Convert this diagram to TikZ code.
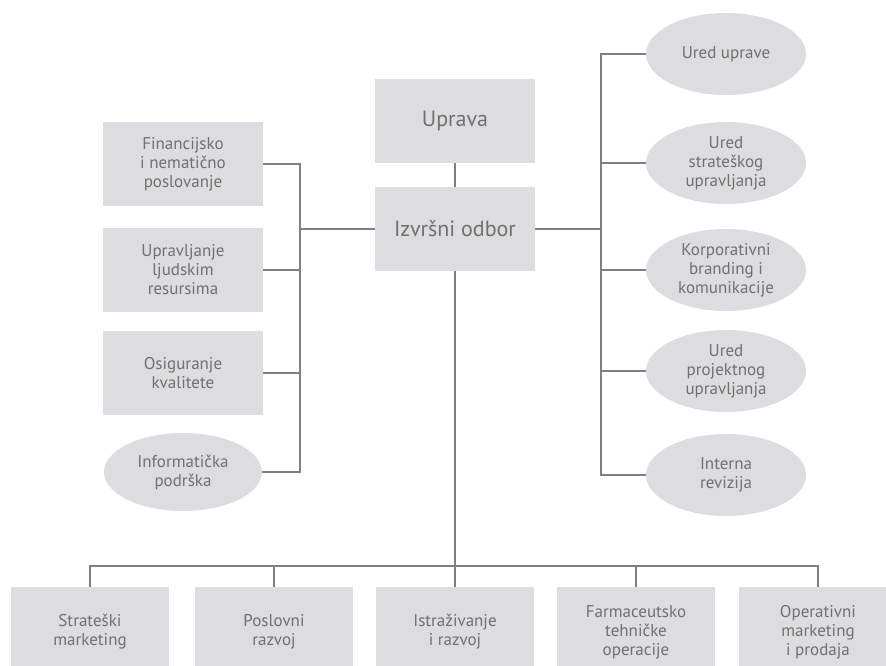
\documentclass[tikz,border=0pt]{standalone}
\usepackage{fontspec}
\setmainfont{PT Sans}
\usetikzlibrary{shapes.geometric,positioning}
\definecolor{boxgray}{RGB}{221,221,223}
\definecolor{txtgray}{RGB}{112,112,112}
\definecolor{linegray}{RGB}{128,128,128}

\begin{document}
\begin{tikzpicture}[x=1pt,y=-1pt]
  \tikzset{ box/.style={rectangle,fill=boxgray,text=txtgray,align=center,inner sep=0pt,
      minimum width=160pt,minimum height=84pt,font=\fontsize{17}{19}\selectfont},
    oval/.style={box,ellipse,minimum height=82pt},
    big/.style={box,font=\fontsize{22}{26}\selectfont},
    low/.style={box,minimum width=158pt,minimum height=90pt},
    link/.style={-,linegray,line width=1.6pt},
  }
  \useasboundingbox (0,0) rectangle (886,666);
  \clip (0,0) rectangle (886,666);

  % top
  \node[big] (UP) at (455,121) {Uprava};
  \node[big] (IO) at (455,229) {Izvršni odbor};

  % left
  \node[box] (FIN) at (183,164) {Financijsko\\i nematično\\poslovanje};
  \node[box] (LJR) at (183,270) {Upravljanje\\ljudskim\\resursima};
  \node[box] (OK) at (183,373) {Osiguranje\\kvalitete};
  \node[oval,minimum width=158pt,minimum height=78pt] (IP) at (183,472) {Informatička\\podrška};

  % right
  \node[oval] (UU) at (726,54) {Ured uprave};
  \node[oval] (USU) at (726,163) {Ured\\strateškog\\upravljanja};
  \node[oval] (KBK) at (726,270) {Korporativni\\branding i\\komunikacije};
  \node[oval] (UPU) at (726,371) {Ured\\projektnog\\upravljanja};
  \node[oval] (IR) at (726,475) {Interna\\revizija};

  % bottom
  \node[low] (SM) at (90,632) {Strateški\\marketing};
  \node[low] (PR) at (274,632) {Poslovni\\razvoj};
  \node[low] (IRZ) at (455,632) {Istraživanje\\i razvoj};
  \node[low] (FTO) at (636,632) {Farmaceutsko\\tehničke\\operacije};
  \node[low] (OMP) at (818,632) {Operativni\\marketing\\i prodaja};

  \coordinate (L) at (300,229);
  \coordinate (R) at (601,229);
  \coordinate (B) at (455,566);

  \draw[link] (UP) -- (IO);
  \draw[link] (IO) -- (L);
  \draw[link] (IO) -- (R);
  \draw[link] (IO) -- (B);

  \draw[link] (FIN.east) -| (L);
  \draw[link] (IP.east) -| (L);
  \draw[link] (LJR.east) -- (LJR.east -| L);
  \draw[link] (OK.east) -- (OK.east -| L);

  \draw[link] (UU.west) -| (R);
  \draw[link] (IR.west) -| (R);
  \draw[link] (USU.west) -- (USU.west -| R);
  \draw[link] (KBK.west) -- (KBK.west -| R);
  \draw[link] (UPU.west) -- (UPU.west -| R);

  \draw[link] (SM.north) |- (B);
  \draw[link] (OMP.north) |- (B);
  \draw[link] (PR.north) -- (PR.north |- B);
  \draw[link] (IRZ.north) -- (B);
  \draw[link] (FTO.north) -- (FTO.north |- B);
\end{tikzpicture}
\end{document}
